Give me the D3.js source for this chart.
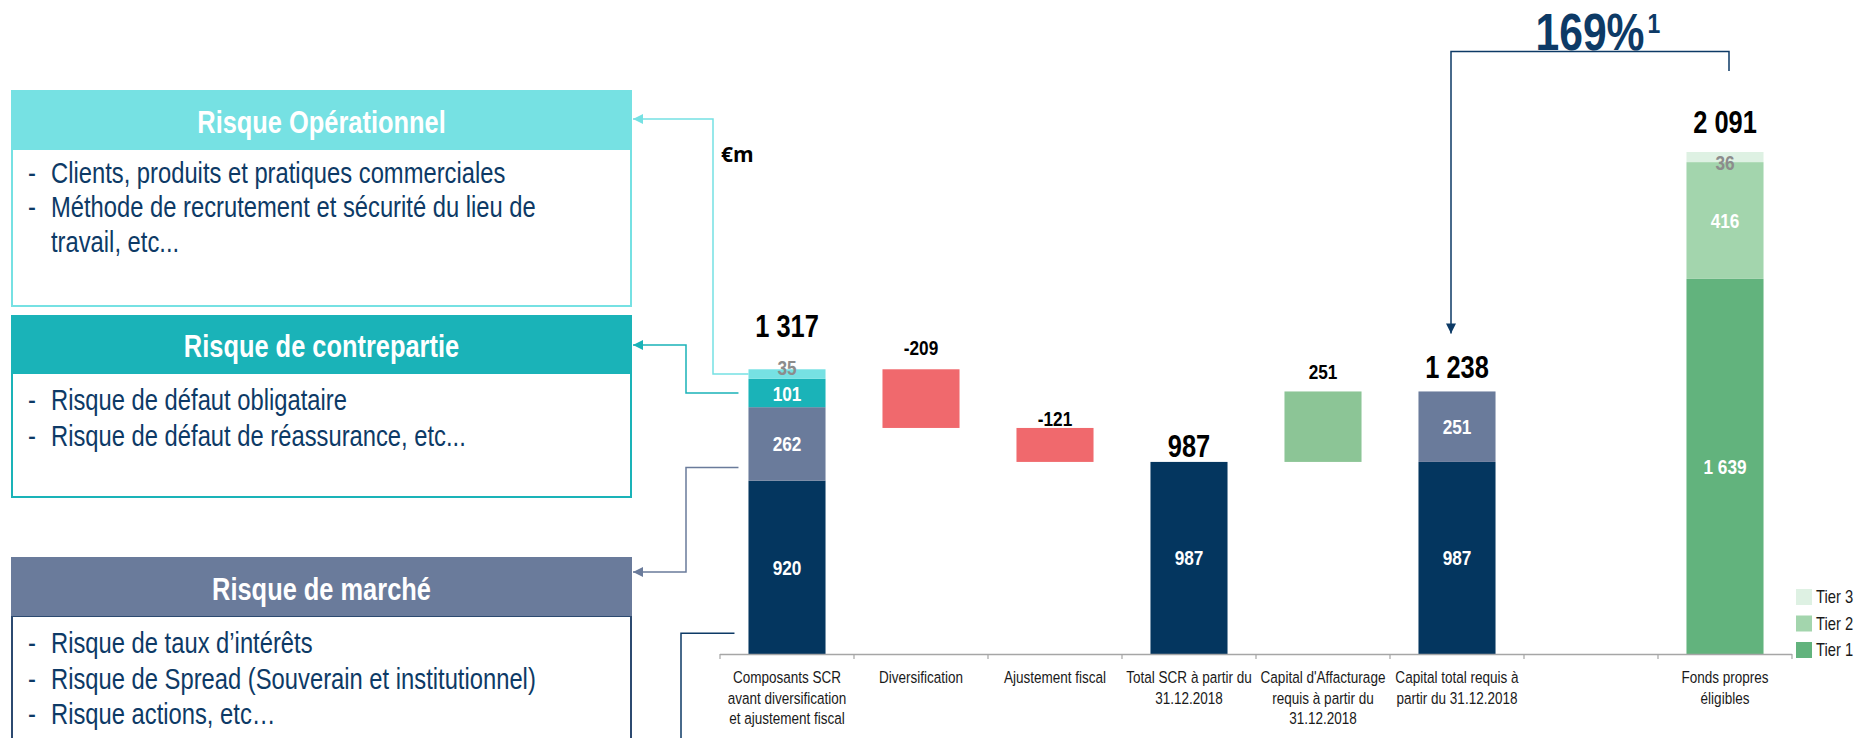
<!DOCTYPE html>
<html>
<head>
<meta charset="utf-8">
<script src="https://cdn.jsdelivr.net/npm/d3@7"></script>
<style>
  html, body { margin: 0; padding: 0; background: #fff; overflow: hidden; }
</style>
</head>
<body>
<svg id="chart" width="1856" height="738"></svg>
<script>
// ---------- data (€m) ----------
const categories = [
  ["Composants SCR", "avant diversification", "et ajustement fiscal"],
  ["Diversification"],
  ["Ajustement fiscal"],
  ["Total SCR à partir du", "31.12.2018"],
  ["Capital d'Affacturage", "requis à partir du", "31.12.2018"],
  ["Capital total requis à", "partir du 31.12.2018"],
  [""],
  ["Fonds propres", "éligibles"]
];
// SCR components, bottom to top (rounded figures; their published total is scrGross)
const scrComponents = [920, 262, 101, 35];
const scrGross = 1317;
const diversification = -209;
const taxAdjustment = -121;
const factoringCapital = 251;
// eligible own funds, bottom to top: Tier 1, Tier 2, Tier 3
const ownFundsTiers = [1639, 416, 36];
const tierLabels = ["Tier 1", "Tier 2", "Tier 3"];
const solvencyRatio = "169%";
const ratioNote = "1";
const unitLabel = "€m";

const riskTitles = ["Risque Opérationnel", "Risque de contrepartie", "Risque de marché"];
const riskLines = [
  [["-", "Clients, produits et pratiques commerciales"], ["-", "Méthode de recrutement et sécurité du lieu de"], ["", "travail, etc..."]],
  [["-", "Risque de défaut obligataire"], ["-", "Risque de défaut de réassurance, etc..."]],
  [["-", "Risque de taux d’intérêts"], ["-", "Risque de Spread (Souverain et institutionnel)"], ["-", "Risque actions, etc…"]]
];

// ---------- colours ----------
const NAVY = "#04365f";
const SLATE = "#6a7b9b";
const TEAL = "#1ab3b8";
const CYAN = "#76e1e3";
const RED = "#f0696d";
const GREEN = "#8cc596";
const TIER_COLORS = ["#62b37d", "#a3d5ad", "#def1e3"];
const TEXT_NAVY = "#0d3a66";
const componentColors = [NAVY, SLATE, TEAL, CYAN];

// ---------- fonts: narrow sans, condensed by scaling if no narrow face ----------
const NARROW = (() => {
  const ctx = document.createElement("canvas").getContext("2d");
  const probe = "Risque abcdefghij 0123";
  ctx.font = '40px "Liberation Sans Narrow", monospace';
  const a = ctx.measureText(probe).width;
  ctx.font = "40px monospace";
  const b = ctx.measureText(probe).width;
  return a !== b
    ? { family: '"Liberation Sans Narrow", "Arial Narrow", sans-serif', k: 1 }
    : { family: '"Liberation Sans", Arial, sans-serif', k: 0.82 };
})();

const svg = d3.select("#chart");
svg.append("rect").attr("width", 1856).attr("height", 738).attr("fill", "#fff");

function label(parent, x, y, s, o = {}) {
  const k = o.wide ? 1 : NARROW.k;
  return parent.append("text")
    .attr("transform", `translate(${x},${y}) scale(${k},1)`)
    .attr("text-anchor", o.anchor || "middle")
    .attr("font-family", o.family || NARROW.family)
    .attr("font-size", o.size || 16)
    .attr("font-weight", o.weight || "normal")
    .attr("fill", o.fill || "#000")
    .text(s);
}

const fmt = d3.formatLocale({ decimal: ",", thousands: " ", grouping: [3], currency: ["", "€"], minus: "-" }).format(",d");

// ---------- scales ----------
const x = d3.scaleBand()
  .domain(d3.range(categories.length))
  .range([720, 1792])
  .paddingInner(0.425)
  .paddingOuter(0.2125);
const bw = x.bandwidth();
const cx = i => x(i) + bw / 2;

const ownFundsTotal = d3.sum(ownFundsTiers);
const y = d3.scaleLinear().domain([0, ownFundsTotal]).range([739, 152]);
const axisY = 654;

// ---------- waterfall segments ----------
const afterDiversification = scrGross + diversification;
const totalSCR = afterDiversification + taxAdjustment;
const totalRequired = totalSCR + factoringCapital;

const segments = [];
let acc = 0;
scrComponents.forEach((v, j) => {
  const last = j === scrComponents.length - 1;
  segments.push({ i: 0, lo: acc, hi: last ? scrGross : acc + v, fill: componentColors[j], text: fmt(v), tc: last ? "#8c8c8c" : "#fff", comp: j });
  acc += v;
});
segments.push({ i: 1, lo: afterDiversification, hi: scrGross, fill: RED });
segments.push({ i: 2, lo: totalSCR, hi: afterDiversification, fill: RED });
segments.push({ i: 3, lo: 0, hi: totalSCR, fill: NAVY, text: fmt(totalSCR), tc: "#fff" });
segments.push({ i: 4, lo: totalSCR, hi: totalRequired, fill: GREEN });
segments.push({ i: 5, lo: 0, hi: totalSCR, fill: NAVY, text: fmt(totalSCR), tc: "#fff" });
segments.push({ i: 5, lo: totalSCR, hi: totalRequired, fill: SLATE, text: fmt(factoringCapital), tc: "#fff" });
acc = 0;
ownFundsTiers.forEach((v, j) => {
  segments.push({ i: 7, lo: acc, hi: acc + v, fill: TIER_COLORS[j], text: fmt(v), tc: j === 2 ? "#8c8c8c" : "#fff", tier: j });
  acc += v;
});

// values written above each column
const topLabels = [
  { i: 0, v: scrGross, text: fmt(scrGross), size: 31, gap: 32 },
  { i: 1, v: scrGross, text: fmt(diversification), size: 21, gap: 14 },
  { i: 2, v: afterDiversification, text: fmt(taxAdjustment), size: 21, gap: 2 },
  { i: 3, v: totalSCR, text: fmt(totalSCR), size: 31, gap: 5 },
  { i: 4, v: totalRequired, text: fmt(factoringCapital), size: 21, gap: 12 },
  { i: 5, v: totalRequired, text: fmt(totalRequired), size: 31, gap: 13 },
  { i: 7, v: ownFundsTotal, text: fmt(ownFundsTotal), size: 31, gap: 19 }
];

// ---------- bars ----------
svg.append("clipPath").attr("id", "plotClip")
  .append("rect").attr("x", 0).attr("y", 0).attr("width", 1856).attr("height", axisY);

const bars = svg.append("g").attr("clip-path", "url(#plotClip)");
bars.selectAll("rect").data(segments).join("rect")
  .attr("x", d => x(d.i))
  .attr("width", bw)
  .attr("y", d => y(d.hi))
  .attr("height", d => y(d.lo) - y(d.hi))
  .attr("fill", d => d.fill);

// segment values
const segLabels = svg.append("g");
segments.filter(d => d.text).forEach(d => {
  const top = y(d.hi), bottom = Math.min(y(d.lo), axisY);
  let base = (top + bottom) / 2 + 7.5;
  if (d.comp === 3) base = top + 6;     // thin operational-risk slice
  if (d.tier === 2) base = top + 18;    // thin Tier 3 slice
  label(segLabels, cx(d.i), base, d.text, { size: 21, weight: "bold", fill: d.tc });
});

// column totals / movements
topLabels.forEach(t => {
  label(svg, cx(t.i), y(t.v) - t.gap, t.text, { size: t.size, weight: "bold", fill: "#000" });
});

// ---------- x axis ----------
const axis = svg.append("g");
axis.append("line")
  .attr("x1", x.range()[0]).attr("x2", x.range()[1])
  .attr("y1", axisY + 0.5).attr("y2", axisY + 0.5)
  .attr("stroke", "#a6a6a6").attr("stroke-width", 1.5);
const boundaries = d3.range(categories.length + 1).map(k => x.range()[0] + k * x.step());
axis.selectAll("line.tick").data(boundaries).join("line")
  .attr("class", "tick")
  .attr("x1", d => d).attr("x2", d => d)
  .attr("y1", axisY).attr("y2", axisY + 5)
  .attr("stroke", "#a6a6a6").attr("stroke-width", 1.2);
categories.forEach((lines, i) => {
  lines.forEach((ln, j) => {
    label(axis, cx(i), 683 + j * 20.5, ln, { size: 16.5, fill: "#1a1a1a" });
  });
});

// ---------- legend ----------
const legend = svg.append("g");
[2, 1, 0].forEach((t, r) => {
  const ly = 589 + r * 26.5;
  legend.append("rect").attr("x", 1796).attr("y", ly).attr("width", 16).attr("height", 16).attr("fill", TIER_COLORS[t]);
  label(legend, 1816, ly + 14, tierLabels[t], { size: 18, anchor: "start", fill: "#1a1a1a" });
});

// ---------- unit ----------
label(svg, 721, 162, unitLabel, { size: 21, weight: "bold", anchor: "start", wide: true, family: '"Open Sans", "Noto Sans", sans-serif' });

// ---------- solvency ratio bracket ----------
const defs = svg.append("defs");
function marker(id, color) {
  defs.append("marker").attr("id", id)
    .attr("viewBox", "0 0 10 10").attr("refX", 10).attr("refY", 5)
    .attr("markerWidth", 16).attr("markerHeight", 10).attr("markerUnits", "userSpaceOnUse")
    .attr("orient", "auto")
    .append("path").attr("d", "M0,0 L10,5 L0,10 Z").attr("fill", color);
}
marker("arNavy", TEXT_NAVY);
marker("arCyan", CYAN);
marker("arTeal", TEAL);
marker("arSlate", SLATE);

const bx1 = cx(5) - 6, bx2 = cx(7) + 4, by = 51.5;
svg.append("path")
  .attr("d", `M${bx2},71 V${by} H${bx1} V${y(totalRequired) - 58}`)
  .attr("fill", "none").attr("stroke", TEXT_NAVY).attr("stroke-width", 1.5)
  .attr("marker-end", "url(#arNavy)");
const ratioMid = (bx1 + bx2) / 2;
const ratioText = label(svg, ratioMid, 50, solvencyRatio, { size: 52, weight: "bold", fill: TEXT_NAVY });
const ratioHalf = ratioText.node().getComputedTextLength() * NARROW.k / 2;
label(svg, ratioMid + ratioHalf + 3, 33, ratioNote, { size: 28, weight: "bold", anchor: "start", fill: TEXT_NAVY });

// ---------- risk description boxes ----------
const boxes = [
  { top: 90, head: 59, body: 157, color: CYAN, border: CYAN, titleBase: 133, lineBase: [183, 217, 252] },
  { top: 315, head: 58, body: 124, color: TEAL, border: TEAL, titleBase: 357, lineBase: [410, 446] },
  { top: 557, head: 59, body: 200, color: SLATE, border: "#2c4a70", titleBase: 600, lineBase: [653, 689, 724] }
];
const boxL = 11, boxR = 632;
boxes.forEach((b, k) => {
  const g = svg.append("g");
  g.append("rect").attr("x", boxL + 1).attr("y", b.top + b.head).attr("width", boxR - boxL - 2).attr("height", b.body)
    .attr("fill", "#fff").attr("stroke", b.border).attr("stroke-width", 2);
  g.append("rect").attr("x", boxL).attr("y", b.top).attr("width", boxR - boxL).attr("height", b.head).attr("fill", b.color);
  label(g, (boxL + boxR) / 2, b.titleBase, riskTitles[k], { size: 31, weight: "bold", fill: "#fff" });
  riskLines[k].forEach((ln, j) => {
    if (ln[0]) label(g, 28, b.lineBase[j], ln[0], { size: 29, anchor: "start", fill: TEXT_NAVY });
    label(g, 51, b.lineBase[j], ln[1], { size: 29, anchor: "start", fill: TEXT_NAVY });
  });
});

// ---------- connectors from the SCR components to the boxes ----------
function segPos(j, f) {
  const d = segments.find(s => s.comp === j);
  const top = y(d.hi), bottom = Math.min(y(d.lo), axisY);
  return top + (bottom - top) * f;
}
const barLeft = x(0);
const connectors = [
  { color: CYAN, m: "arCyan", sx: barLeft, sy: segPos(3, 0.5), vx: 713, ty: 119 },
  { color: TEAL, m: "arTeal", sx: barLeft - 10, sy: segPos(2, 0.5), vx: 686, ty: 345 },
  { color: SLATE, m: "arSlate", sx: barLeft - 10, sy: segPos(1, 0.82), vx: 686, ty: 572 }
];
connectors.forEach(c => {
  svg.append("path")
    .attr("d", `M${c.sx},${c.sy} H${c.vx} V${c.ty} H${boxR + 1}`)
    .attr("fill", "none").attr("stroke", c.color).attr("stroke-width", 1.5)
    .attr("marker-end", `url(#${c.m})`);
});
svg.append("path")
  .attr("d", `M${barLeft - 14},${segPos(0, 0.88)} H681 V745`)
  .attr("fill", "none").attr("stroke", TEXT_NAVY).attr("stroke-width", 1.5);
</script>
</body>
</html>
